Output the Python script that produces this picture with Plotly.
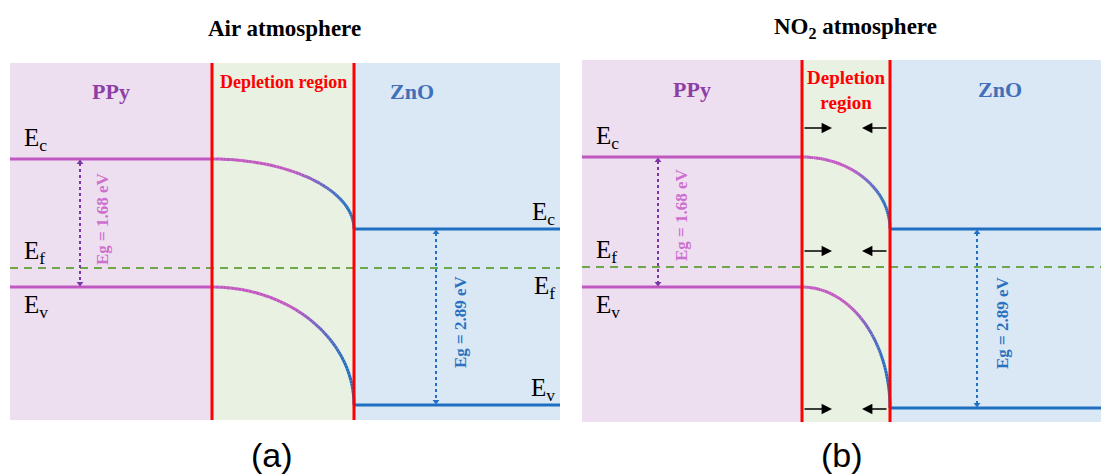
import numpy as np
import plotly.graph_objects as go

# ---- schematic band data (energy in a.u., Fermi level = 0) ----
PANEL_TITLES = ["Air atmosphere", "NO<sub>2</sub> atmosphere"]
PANEL_TAGS = ["(a)", "(b)"]
REGION_NAMES = ["PPy", "Depletion region", "ZnO"]
PPY_EC = [1.09, 1.10]
PPY_EV = [-0.19, -0.20]
ZNO_EC = [0.39, 0.38]
ZNO_EV = [-1.37, -1.41]
EF = [0.0, 0.0]
# depletion region limits (distance, a.u.)
DEP_START = [20.2, 22.0]
DEP_END = [34.4, 30.8]
PPY_GAP_LABEL = "Eg = 1.68 eV"
ZNO_GAP_LABEL = "Eg = 2.89 eV"

# ---- styling ----
SERIF = "Liberation Serif, Times New Roman, serif"
C_PPY_BG, C_DEP_BG, C_ZNO_BG = "#eedff0", "#e9f1e2", "#dae7f4"
C_PPY, C_ZNO = "#c158c2", "#1e6ec2"
C_RED = "#ff0000"
C_EF = "#6fa84a"
C_PPY_TITLE, C_ZNO_TITLE = "#8e3fa6", "#4170b9"

W, H = 1101, 475
X_RANGE = [55.0, 51.9]
Y_RANGE = [(-1.52, 2.05), (-1.55, 2.07)]
X_DOMAIN = [(10 / W, 560 / W), (582 / W, 1.0)]
Y_DOMAIN = [(1 - 420 / H, 1 - 63 / H), (1 - 422 / H, 1 - 60 / H)]


def hex_rgb(c):
    c = c.lstrip("#")
    return [int(c[k:k + 2], 16) for k in (0, 2, 4)]


def blend(c1, c2, f):
    a, b = hex_rgb(c1), hex_rgb(c2)
    return "rgb(%d,%d,%d)" % tuple(round(a[k] + (b[k] - a[k]) * f) for k in range(3))


fig = go.Figure()
shapes, annotations = [], []

for i in range(2):
    xa = "x" if i == 0 else "x2"
    ya = "y" if i == 0 else "y2"
    xmax = X_RANGE[i]
    x0, x1 = DEP_START[i], DEP_END[i]

    # region backgrounds
    for (a, b, col) in [(0, x0, C_PPY_BG), (x0, x1, C_DEP_BG), (x1, xmax + 5, C_ZNO_BG)]:
        shapes.append(dict(type="rect", xref=xa, yref=f"{ya} domain", x0=a, x1=b, y0=0, y1=1,
                           fillcolor=col, line_width=0, layer="below"))

    # Fermi level
    fig.add_trace(go.Scatter(x=[0, xmax + 5], y=[EF[i], EF[i]], mode="lines", xaxis=xa, yaxis=ya,
                             line=dict(color=C_EF, width=2, dash="8px,6px"), hoverinfo="skip"))

    # flat band edges
    for lvl in (PPY_EC[i], PPY_EV[i]):
        fig.add_trace(go.Scatter(x=[0, x0], y=[lvl, lvl], mode="lines", xaxis=xa, yaxis=ya,
                                 line=dict(color=C_PPY, width=3), hoverinfo="skip"))
    for lvl in (ZNO_EC[i], ZNO_EV[i]):
        fig.add_trace(go.Scatter(x=[x1, xmax + 5], y=[lvl, lvl], mode="lines", xaxis=xa, yaxis=ya,
                                 line=dict(color=C_ZNO, width=3), hoverinfo="skip"))

    # bent bands in the depletion region (quarter-ellipse bending, colour fading PPy -> ZnO)
    for (ys, ye) in [(PPY_EC[i], ZNO_EC[i]), (PPY_EV[i], ZNO_EV[i])]:
        th = np.linspace(0, np.pi / 2, 61)
        xs = x0 + (x1 - x0) * np.sin(th)
        yv = ys + (ye - ys) * (1 - np.cos(th))
        for k in range(len(th) - 1):
            xf = np.sin(th[k])
            f = float(np.clip((xf - 0.55) / 0.4, 0, 1))
            fig.add_trace(go.Scatter(x=xs[k:k + 2], y=yv[k:k + 2], mode="lines", xaxis=xa, yaxis=ya,
                                     line=dict(color=blend(C_PPY, C_ZNO, f), width=3),
                                     hoverinfo="skip"))

    # junction boundaries
    for xb in (x0, x1):
        shapes.append(dict(type="line", xref=xa, yref=f"{ya} domain", x0=xb, x1=xb, y0=0, y1=1,
                           line=dict(color=C_RED, width=3), layer="above"))

    # band-gap arrows
    gx_ppy = 7.0 if i == 0 else 7.6
    gx_zno = 42.6 if i == 0 else 39.5
    for gx, top, bot, col in [(gx_ppy, PPY_EC[i], PPY_EV[i], "#7a35a8"),
                              (gx_zno, ZNO_EC[i], ZNO_EV[i], "#2170c4")]:
        fig.add_trace(go.Scatter(x=[gx, gx], y=[top - 0.04, bot + 0.04], mode="lines",
                                 xaxis=xa, yaxis=ya, line=dict(color=col, width=2, dash="dot"),
                                 hoverinfo="skip"))
        fig.add_trace(go.Scatter(x=[gx, gx], y=[top - 0.035, bot + 0.035], mode="markers",
                                 xaxis=xa, yaxis=ya, hoverinfo="skip",
                                 marker=dict(symbol=["triangle-up", "triangle-down"], size=6,
                                             color=col, line_width=0)))

    gt_ppy = (9.2, 0.49) if i == 0 else (10.0, 0.52)
    gt_zno = (45.0, -0.54) if i == 0 else (42.0, -0.56)
    annotations.append(dict(x=gt_ppy[0], y=gt_ppy[1], xref=xa, yref=ya, text=f"<b>{PPY_GAP_LABEL}</b>",
                            textangle=-90, showarrow=False, xanchor="center", yanchor="middle",
                            font=dict(family=SERIF, size=17, color="#cd6fcd")))
    annotations.append(dict(x=gt_zno[0], y=gt_zno[1], xref=xa, yref=ya, text=f"<b>{ZNO_GAP_LABEL}</b>",
                            textangle=-90, showarrow=False, xanchor="center", yanchor="middle",
                            font=dict(family=SERIF, size=17, color="#2a72c0")))

    # band labels
    lab = dict(family=SERIF, size=25, color="black")
    lx = 1.2
    annotations += [
        dict(x=lx, y=PPY_EC[i], xref=xa, yref=ya, text="E<sub>c</sub>", showarrow=False,
             xanchor="left", yanchor="bottom", yshift=2, font=lab),
        dict(x=lx, y=EF[i], xref=xa, yref=ya, text="E<sub>f</sub>", showarrow=False,
             xanchor="left", yanchor="bottom", yshift=-2, font=lab),
        dict(x=lx, y=PPY_EV[i], xref=xa, yref=ya, text="E<sub>v</sub>", showarrow=False,
             xanchor="left", yanchor="top", yshift=-2, font=lab),
    ]
    rx = 54.7 if i == 0 else 53.0
    annotations += [
        dict(x=rx, y=ZNO_EC[i], xref=xa, yref=ya, text="E<sub>c</sub>", showarrow=False,
             xanchor="right", yanchor="bottom", yshift=-2, font=lab),
        dict(x=rx, y=EF[i], xref=xa, yref=ya, text="E<sub>f</sub>", showarrow=False,
             xanchor="right", yanchor="top", yshift=-2, font=lab),
        dict(x=rx, y=ZNO_EV[i], xref=xa, yref=ya, text="E<sub>v</sub>", showarrow=False,
             xanchor="right", yanchor="bottom", yshift=-2, font=lab),
    ]

    # region names
    ty = 1.77
    dep_text = REGION_NAMES[1] if i == 0 else REGION_NAMES[1].replace(" ", "<br>")
    annotations += [
        dict(x=x0 / 2, y=ty, xref=xa, yref=ya, text=f"<b>{REGION_NAMES[0]}</b>", showarrow=False,
             xanchor="center", yanchor="middle",
             font=dict(family=SERIF, size=22, color=C_PPY_TITLE)),
        dict(x=(x0 + x1) / 2, y=1.86 if i == 0 else 1.77, xref=xa, yref=ya,
             text=f"<b>{dep_text}</b>", showarrow=False, xanchor="center", yanchor="middle",
             font=dict(family=SERIF, size=18 if i == 0 else 19, color=C_RED)),
        dict(x=40.2 if i == 0 else 41.8, y=ty, xref=xa, yref=ya, text=f"<b>{REGION_NAMES[2]}</b>",
             showarrow=False, xanchor="center", yanchor="middle",
             font=dict(family=SERIF, size=22, color=C_ZNO_TITLE)),
    ]

    # panel title and tag
    xc = (284 if i == 0 else 855) / W
    annotations.append(dict(x=xc, y=1 - 28 / H, xref="paper", yref="paper",
                            text=f"<b>{PANEL_TITLES[i]}</b>", showarrow=False,
                            xanchor="center", yanchor="middle",
                            font=dict(family=SERIF, size=23, color="black")))
    annotations.append(dict(x=(272 if i == 0 else 842) / W, y=1 - 455 / H, xref="paper", yref="paper",
                            text=PANEL_TAGS[i], showarrow=False, xanchor="center", yanchor="middle",
                            font=dict(family="Liberation Sans, Arial, sans-serif", size=34,
                                      color="black")))

# narrowing depletion width arrows (NO2 panel)
for ay in (1.39, 0.16, -1.42):
    for tail, head in [(DEP_START[1] + 0.1, DEP_START[1] + 3.0), (DEP_END[1] - 0.2, DEP_END[1] - 2.8)]:
        annotations.append(dict(x=head, y=ay, ax=tail, ay=ay, xref="x2", yref="y2", axref="x2",
                                ayref="y2", showarrow=True, arrowhead=2, arrowsize=1.6,
                                arrowwidth=1.3, arrowcolor="black", text=""))

axis_off = dict(visible=False, showgrid=False, zeroline=False, fixedrange=True)
fig.update_layout(
    width=W, height=H, margin=dict(l=0, r=0, t=0, b=0),
    paper_bgcolor="white", plot_bgcolor="white", showlegend=False,
    xaxis=dict(domain=X_DOMAIN[0], range=[0, X_RANGE[0]], **axis_off),
    yaxis=dict(domain=Y_DOMAIN[0], range=list(Y_RANGE[0]), **axis_off),
    xaxis2=dict(domain=X_DOMAIN[1], range=[0, X_RANGE[1]], **axis_off),
    yaxis2=dict(domain=Y_DOMAIN[1], range=list(Y_RANGE[1]), **axis_off),
    shapes=shapes, annotations=annotations,
)
fig.write_html("out.html")
